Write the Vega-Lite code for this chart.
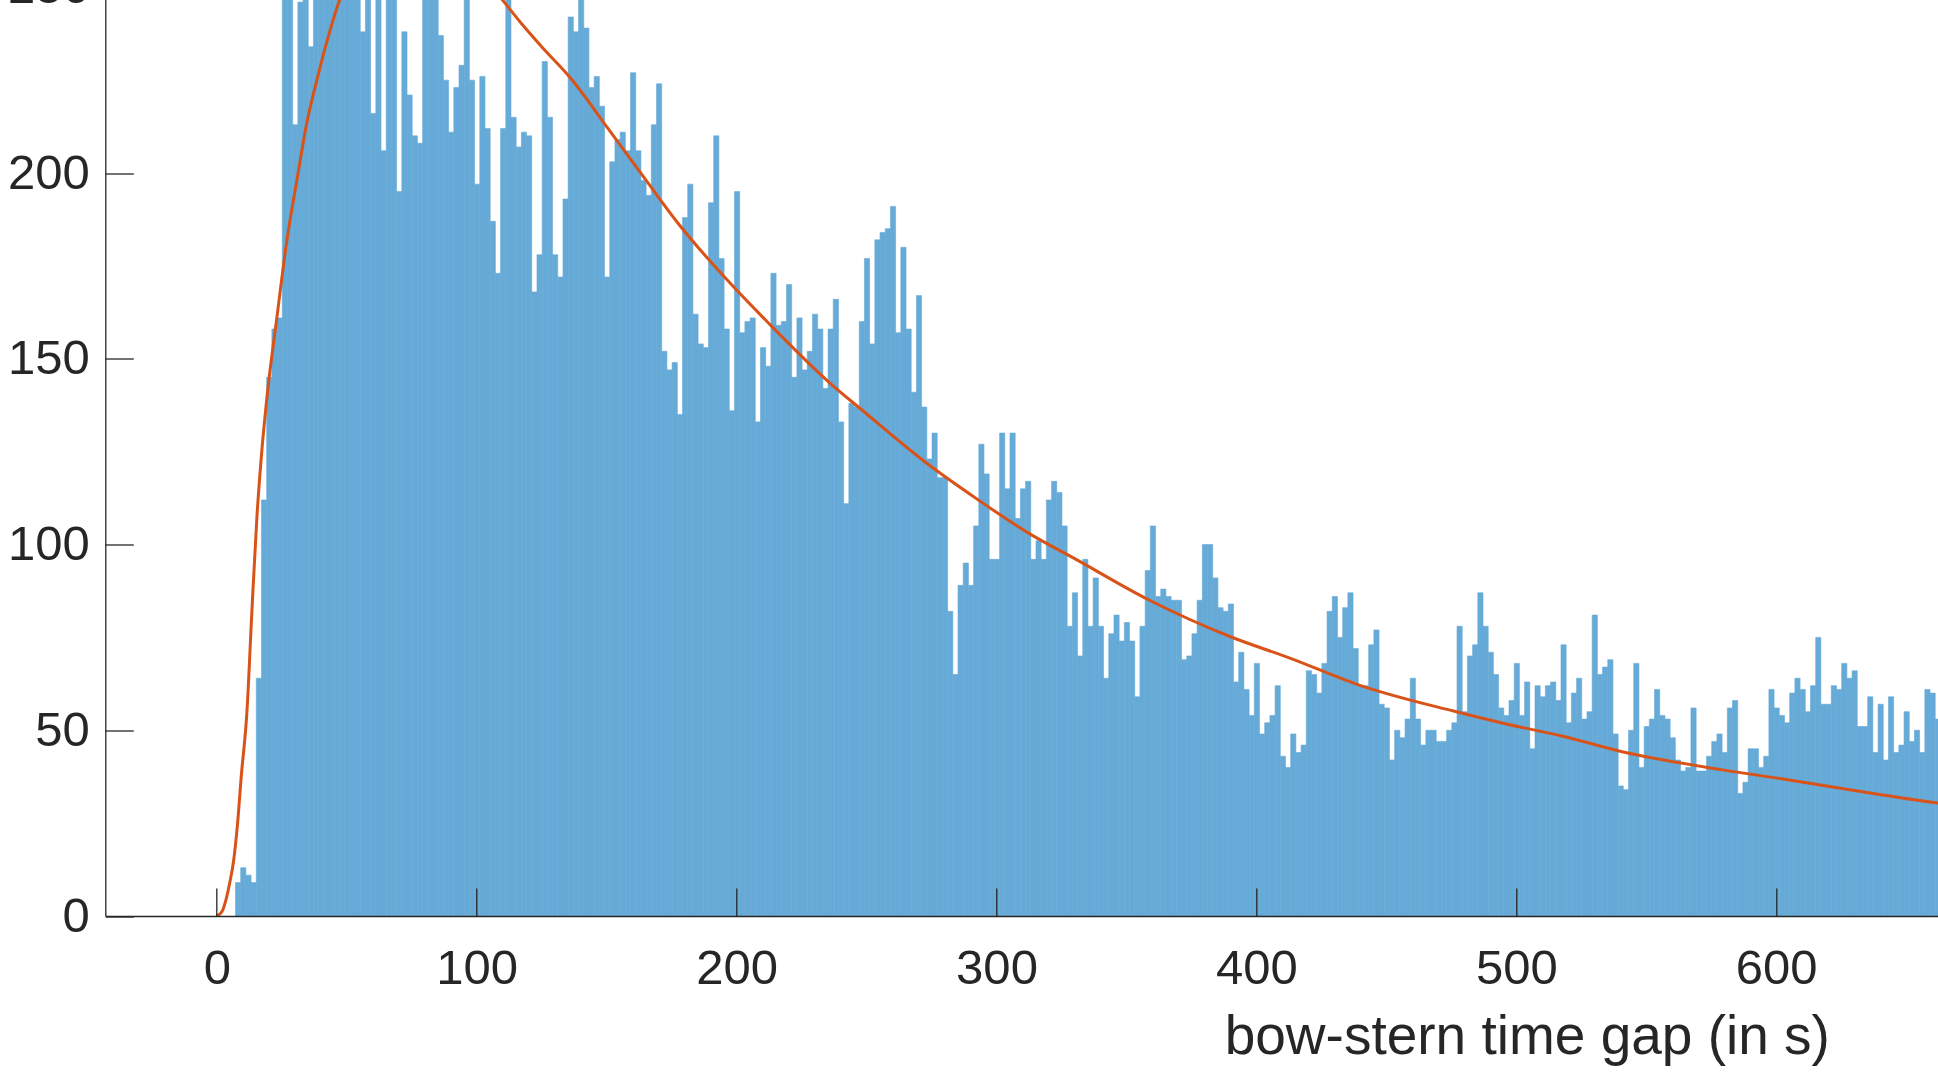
{
  "$schema": "https://vega.github.io/schema/vega-lite/v6.json",
  "width": 1930.8,
  "height": 1114.5,
  "autosize": {"type": "none"},
  "padding": {"left": 105.3, "top": -198.5, "right": -98.1, "bottom": 161},
  "background": "white",
  "config": {
    "view": {"stroke": null},
    "axis": {"grid": false}
  },
  "datasets": {
    "hist": [
      {"t":7,"n":9},{"t":9,"n":13},{"t":11,"n":11},{"t":13,"n":9},{"t":15,"n":64},{"t":17,"n":112},{"t":19,"n":145},{"t":21,"n":158},{"t":23,"n":161},
      {"t":25,"n":258},{"t":27,"n":265},{"t":29,"n":213},{"t":31,"n":246},{"t":33,"n":262},{"t":35,"n":234},{"t":37,"n":270},{"t":39,"n":262},{"t":41,"n":280},{"t":43,"n":268},{"t":45,"n":275},{"t":47,"n":262},{"t":49,"n":285},{"t":51,"n":270},{"t":53,"n":258},{"t":55,"n":238},{"t":57,"n":266},{"t":59,"n":216},{"t":61,"n":255},{"t":63,"n":206},{"t":65,"n":262},{"t":67,"n":252},{"t":69,"n":195},{"t":71,"n":238},{"t":73,"n":221},{"t":75,"n":210},{"t":77,"n":208},{"t":79,"n":256},{"t":81,"n":250},{"t":83,"n":252},{"t":85,"n":237},
      {"t":87,"n":225},{"t":89,"n":211},{"t":91,"n":223},{"t":93,"n":229},{"t":95,"n":255},{"t":97,"n":225},{"t":99,"n":197},{"t":101,"n":226},{"t":103,"n":212},{"t":105,"n":187},{"t":107,"n":173},{"t":109,"n":212},{"t":111,"n":250},{"t":113,"n":215},{"t":115,"n":207},{"t":117,"n":211},{"t":119,"n":210},{"t":121,"n":168},{"t":123,"n":178},{"t":125,"n":230},{"t":127,"n":215},{"t":129,"n":178},{"t":131,"n":172},{"t":133,"n":193},{"t":135,"n":242},{"t":137,"n":238},{"t":139,"n":250},{"t":141,"n":239},{"t":143,"n":223},{"t":145,"n":226},{"t":147,"n":218},{"t":149,"n":172},{"t":151,"n":203},{"t":153,"n":209},{"t":155,"n":211},{"t":157,"n":206},{"t":159,"n":227},{"t":161,"n":206},{"t":163,"n":198},
      {"t":165,"n":194},{"t":167,"n":213},{"t":169,"n":224},{"t":171,"n":152},{"t":173,"n":147},{"t":175,"n":149},{"t":177,"n":135},{"t":179,"n":188},{"t":181,"n":197},{"t":183,"n":162},{"t":185,"n":154},{"t":187,"n":153},{"t":189,"n":192},{"t":191,"n":210},{"t":193,"n":177},{"t":195,"n":158},{"t":197,"n":136},{"t":199,"n":195},{"t":201,"n":157},{"t":203,"n":160},{"t":205,"n":161},{"t":207,"n":133},{"t":209,"n":153},{"t":211,"n":148},{"t":213,"n":173},{"t":215,"n":159},{"t":217,"n":160},{"t":219,"n":170},{"t":221,"n":145},{"t":223,"n":161},{"t":225,"n":147},{"t":227,"n":152},{"t":229,"n":162},{"t":231,"n":158},{"t":233,"n":142},{"t":235,"n":158},{"t":237,"n":166},{"t":239,"n":133},{"t":241,"n":111},{"t":243,"n":138},{"t":245,"n":137},{"t":247,"n":160},
      {"t":249,"n":177},{"t":251,"n":154},{"t":253,"n":182},{"t":255,"n":184},{"t":257,"n":185},{"t":259,"n":191},{"t":261,"n":157},{"t":263,"n":180},{"t":265,"n":158},{"t":267,"n":141},{"t":269,"n":167},{"t":271,"n":137},{"t":273,"n":123},{"t":275,"n":130},{"t":277,"n":118},{"t":279,"n":118},{"t":281,"n":82},{"t":283,"n":65},{"t":285,"n":89},{"t":287,"n":95},{"t":289,"n":89},{"t":291,"n":105},{"t":293,"n":127},{"t":295,"n":119},{"t":297,"n":96},{"t":299,"n":96},{"t":301,"n":130},{"t":303,"n":115},{"t":305,"n":130},{"t":307,"n":107},{"t":309,"n":115},{"t":311,"n":117},{"t":313,"n":96},{"t":315,"n":101},{"t":317,"n":96},{"t":319,"n":112},{"t":321,"n":117},{"t":323,"n":114},{"t":325,"n":105},{"t":327,"n":78},{"t":329,"n":87},
      {"t":331,"n":70},{"t":333,"n":96},{"t":335,"n":78},{"t":337,"n":91},{"t":339,"n":78},{"t":341,"n":64},{"t":343,"n":76},{"t":345,"n":81},{"t":347,"n":74},{"t":349,"n":79},{"t":351,"n":74},{"t":353,"n":59},{"t":355,"n":78},{"t":357,"n":93},{"t":359,"n":105},{"t":361,"n":86},{"t":363,"n":88},{"t":365,"n":86},{"t":367,"n":85},{"t":369,"n":85},{"t":371,"n":69},{"t":373,"n":70},{"t":375,"n":76},{"t":377,"n":85},{"t":379,"n":100},{"t":381,"n":100},{"t":383,"n":91},{"t":385,"n":83},{"t":387,"n":82},{"t":389,"n":84},{"t":391,"n":63},{"t":393,"n":71},{"t":395,"n":61},{"t":397,"n":54},{"t":399,"n":68},{"t":401,"n":49},{"t":403,"n":52},{"t":405,"n":54},{"t":407,"n":62},{"t":409,"n":43},{"t":411,"n":40},{"t":413,"n":49},
      {"t":415,"n":44},{"t":417,"n":46},{"t":419,"n":66},{"t":421,"n":65},{"t":423,"n":60},{"t":425,"n":68},{"t":427,"n":82},{"t":429,"n":86},{"t":431,"n":75},{"t":433,"n":83},{"t":435,"n":87},{"t":437,"n":72},{"t":439,"n":62},{"t":441,"n":62},{"t":443,"n":73},{"t":445,"n":77},{"t":447,"n":57},{"t":449,"n":56},{"t":451,"n":42},{"t":453,"n":50},{"t":455,"n":48},{"t":457,"n":53},{"t":459,"n":64},{"t":461,"n":53},{"t":463,"n":46},{"t":465,"n":50},{"t":467,"n":50},{"t":469,"n":47},{"t":471,"n":47},{"t":473,"n":50},{"t":475,"n":52},{"t":477,"n":78},{"t":479,"n":55},{"t":481,"n":70},{"t":483,"n":73},{"t":485,"n":87},{"t":487,"n":78},{"t":489,"n":71},{"t":491,"n":65},{"t":493,"n":56},{"t":495,"n":54},
      {"t":497,"n":58},{"t":499,"n":68},{"t":501,"n":54},{"t":503,"n":63},{"t":505,"n":45},{"t":507,"n":62},{"t":509,"n":59},{"t":511,"n":62},{"t":513,"n":63},{"t":515,"n":58},{"t":517,"n":73},{"t":519,"n":52},{"t":521,"n":60},{"t":523,"n":64},{"t":525,"n":53},{"t":527,"n":55},{"t":529,"n":81},{"t":531,"n":65},{"t":533,"n":67},{"t":535,"n":69},{"t":537,"n":49},{"t":539,"n":35},{"t":541,"n":34},{"t":543,"n":50},{"t":545,"n":68},{"t":547,"n":40},{"t":549,"n":51},{"t":551,"n":53},{"t":553,"n":61},{"t":555,"n":54},{"t":557,"n":53},{"t":559,"n":48},{"t":561,"n":42},{"t":563,"n":39},{"t":565,"n":40},{"t":567,"n":56},{"t":569,"n":39},{"t":571,"n":39},{"t":573,"n":43},{"t":575,"n":47},{"t":577,"n":49},
      {"t":579,"n":44},{"t":581,"n":56},{"t":583,"n":58},{"t":585,"n":33},{"t":587,"n":36},{"t":589,"n":45},{"t":591,"n":45},{"t":593,"n":40},{"t":595,"n":43},{"t":597,"n":61},{"t":599,"n":56},{"t":601,"n":54},{"t":603,"n":52},{"t":605,"n":60},{"t":607,"n":64},{"t":609,"n":61},{"t":611,"n":55},{"t":613,"n":62},{"t":615,"n":75},{"t":617,"n":57},{"t":619,"n":57},{"t":621,"n":62},{"t":623,"n":61},{"t":625,"n":68},{"t":627,"n":64},{"t":629,"n":66},{"t":631,"n":51},{"t":633,"n":51},{"t":635,"n":59},{"t":637,"n":44},{"t":639,"n":57},{"t":641,"n":42},{"t":643,"n":59},{"t":645,"n":44},{"t":647,"n":46},{"t":649,"n":55},{"t":651,"n":47},{"t":653,"n":50},{"t":655,"n":44},{"t":657,"n":61},{"t":659,"n":60},{"t":661,"n":53},{"t":663,"n":50}
    ],
    "fit": [
      {"t":0,"f":0},{"t":2,"f":1.2},{"t":3.5,"f":4.3},{"t":5,"f":9},{"t":6.5,"f":15},{"t":8,"f":25},{"t":9.4,"f":37.5},{"t":11.6,"f":55},{"t":13.5,"f":82},{"t":15.4,"f":107},{"t":17.3,"f":125},{"t":19.2,"f":139},{"t":23.1,"f":161},{"t":27,"f":182},{"t":30.8,"f":198},{"t":34.5,"f":213},{"t":38.5,"f":225},{"t":43,"f":237},{"t":47.5,"f":247},{"t":55,"f":256},{"t":65,"f":262},{"t":75,"f":264},{"t":85,"f":262},{"t":95,"f":257},{"t":105,"f":250.5},{"t":109.4,"f":247},{"t":116.8,"f":240.6},{"t":125,"f":234},{"t":136.4,"f":225.3},{"t":150.5,"f":212},{"t":165.2,"f":198},{"t":178,"f":186},{"t":197.3,"f":170.5},{"t":212.7,"f":159.3},{"t":235.7,"f":143.6},{"t":247.9,"f":136.4},{"t":272.9,"f":122},{"t":292.8,"f":112.1},{"t":312,"f":103.2},{"t":330.6,"f":96},{"t":358.3,"f":85.2},{"t":390.3,"f":75.1},{"t":413.4,"f":69.3},{"t":439,"f":62.3},{"t":476.2,"f":55.1},{"t":496.1,"f":51.7},{"t":517.9,"f":48.4},{"t":540.3,"f":44.3},{"t":578.8,"f":39.4},{"t":604.4,"f":36.7},{"t":630.1,"f":33.8},{"t":662.3,"f":30.4},{"t":700,"f":27.5}
    ]
  },
  "layer": [
    {
      "data": {"name": "hist"},
      "mark": {"type": "bar", "color": "#66AAD7", "clip": true, "binSpacing": 0, "stroke": "#66AAD7", "strokeWidth": 0.6},
      "encoding": {
        "x": {
          "field": "t", "type": "quantitative",
          "bin": {"binned": true, "step": 2},
          "scale": {"domain": [-42.9, 700], "nice": false, "zero": false},
          "axis": {
            "title": "bow-stern time gap (in s)",
            "values": [0, 100, 200, 300, 400, 500, 600],
            "format": "d",
            "zindex": 1,
            "domainColor": "#262626", "domainWidth": 1.3,
            "tickColor": "#262626", "tickWidth": 1.3, "tickSize": -28,
            "labelFont": "Liberation Sans", "labelFontSize": 49, "labelColor": "#262626",
            "labelPadding": 95, "labelBaseline": "alphabetic", "labelFlush": false, "labelOverlap": false,
            "titleFont": "Liberation Sans", "titleFontSize": 55, "titleFontWeight": "normal", "titleColor": "#262626",
            "titleX": 1421.5, "titleY": 137.3, "titleAlign": "center", "titleBaseline": "alphabetic"
          }
        },
        "y": {
          "field": "n", "type": "quantitative",
          "scale": {"domain": [0, 300], "nice": false},
          "axis": {
            "title": null,
            "values": [0, 50, 100, 150, 200, 250, 300],
            "zindex": 1,
            "domainColor": "#262626", "domainWidth": 1.3,
            "tickColor": "#262626", "tickWidth": 1.3, "tickSize": -28,
            "labelFont": "Liberation Sans", "labelFontSize": 49, "labelColor": "#262626",
            "labelPadding": 44, "labelBaseline": "middle", "labelFlush": false, "labelOverlap": false
          }
        }
      }
    },
    {
      "data": {"name": "fit"},
      "mark": {"type": "line", "color": "#D95319", "strokeWidth": 3, "interpolate": "monotone", "clip": true},
      "encoding": {
        "x": {"field": "t", "type": "quantitative"},
        "y": {"field": "f", "type": "quantitative"}
      }
    }
  ]
}
